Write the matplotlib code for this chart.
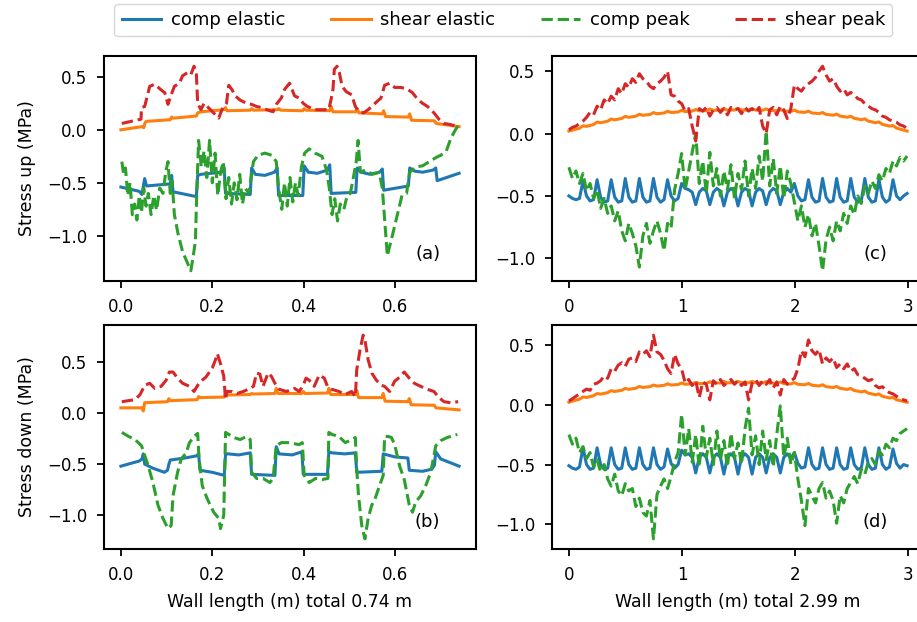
import matplotlib
matplotlib.use("Agg")
import matplotlib.pyplot as plt
from matplotlib.ticker import MultipleLocator
import numpy as np

plt.rcParams['font.family'] = ['DejaVu Sans']

labels = ['comp elastic', 'shear elastic', 'comp peak', 'shear peak']
colors = ['tab:blue', 'tab:orange', 'tab:green', 'tab:red']
styles = ['-', '-', '--', '--']

# ---------------- short wall (0.74 m), (x, y) pairs ----------------
a_comp_el = [(0.0, -0.54), (0.040, -0.58), (0.046, -0.61), (0.052, -0.46), (0.056, -0.53),
             (0.108, -0.51), (0.111, -0.43), (0.114, -0.585), (0.165, -0.63), (0.168, -0.43),
             (0.175, -0.42), (0.220, -0.40), (0.226, -0.36), (0.229, -0.60), (0.283, -0.61),
             (0.286, -0.36), (0.294, -0.42), (0.315, -0.43), (0.336, -0.40), (0.342, -0.36),
             (0.345, -0.62), (0.398, -0.62), (0.401, -0.34), (0.410, -0.40), (0.430, -0.41),
             (0.452, -0.38), (0.457, -0.33), (0.460, -0.60), (0.514, -0.59), (0.517, -0.36),
             (0.526, -0.40), (0.545, -0.42), (0.566, -0.40), (0.572, -0.37), (0.575, -0.57),
             (0.629, -0.53), (0.632, -0.36), (0.643, -0.39), (0.660, -0.40), (0.683, -0.38),
             (0.689, -0.36), (0.692, -0.48), (0.740, -0.41)]
a_shear_el = [(0.0, 0.0), (0.046, 0.03), (0.050, 0.02), (0.053, 0.07), (0.056, 0.08),
              (0.108, 0.095), (0.111, 0.12), (0.114, 0.11), (0.165, 0.13), (0.168, 0.16),
              (0.175, 0.17), (0.226, 0.19), (0.229, 0.21), (0.232, 0.18), (0.283, 0.185),
              (0.286, 0.20), (0.290, 0.185), (0.342, 0.19), (0.345, 0.20), (0.350, 0.185),
              (0.398, 0.18), (0.401, 0.20), (0.405, 0.185), (0.457, 0.18), (0.460, 0.22),
              (0.464, 0.17), (0.514, 0.17), (0.517, 0.20), (0.521, 0.16), (0.572, 0.15),
              (0.575, 0.18), (0.579, 0.125), (0.629, 0.12), (0.632, 0.15), (0.636, 0.09),
              (0.686, 0.085), (0.690, 0.06), (0.740, 0.03)]
a_comp_pk = [(0.002, -0.30), (0.006, -0.42), (0.010, -0.36), (0.015, -0.62), (0.020, -0.50),
             (0.025, -0.80), (0.030, -0.70), (0.035, -0.85), (0.040, -0.62), (0.045, -0.78),
             (0.050, -0.55), (0.055, -0.72), (0.060, -0.60), (0.066, -0.80), (0.072, -0.62),
             (0.078, -0.76), (0.085, -0.55), (0.092, -0.60), (0.098, -0.40), (0.103, -0.30),
             (0.108, -0.60), (0.112, -0.48), (0.117, -0.80), (0.125, -0.98), (0.135, -1.15),
             (0.145, -1.25), (0.153, -1.33), (0.158, -1.20), (0.163, -1.05), (0.166, -0.60),
             (0.170, -0.10), (0.176, -0.35), (0.182, -0.20), (0.188, -0.45), (0.194, -0.10),
             (0.200, -0.50), (0.206, -0.22), (0.212, -0.62), (0.218, -0.40), (0.224, -0.30),
             (0.230, -0.65), (0.236, -0.45), (0.242, -0.70), (0.248, -0.50), (0.254, -0.66),
             (0.260, -0.42), (0.266, -0.70), (0.272, -0.55), (0.280, -0.60), (0.290, -0.30),
             (0.300, -0.24), (0.315, -0.22), (0.330, -0.24), (0.340, -0.30), (0.345, -0.55),
             (0.352, -0.75), (0.358, -0.50), (0.364, -0.72), (0.370, -0.45), (0.376, -0.68),
             (0.382, -0.50), (0.388, -0.62), (0.395, -0.35), (0.402, -0.22), (0.412, -0.18),
             (0.425, -0.22), (0.440, -0.25), (0.450, -0.38), (0.456, -0.55), (0.462, -0.80),
             (0.468, -0.65), (0.474, -0.86), (0.480, -0.70), (0.488, -0.75), (0.495, -0.62),
             (0.502, -0.60), (0.510, -0.42), (0.515, -0.30), (0.519, -0.10), (0.524, -0.40),
             (0.535, -0.38), (0.550, -0.42), (0.565, -0.40), (0.572, -0.55), (0.578, -0.90),
             (0.583, -1.19), (0.588, -1.10), (0.595, -0.98), (0.605, -0.80), (0.615, -0.62),
             (0.625, -0.60), (0.632, -0.40), (0.645, -0.35), (0.660, -0.34), (0.675, -0.30),
             (0.690, -0.26), (0.700, -0.24), (0.712, -0.20), (0.722, -0.08), (0.732, 0.00),
             (0.738, 0.04)]
a_shear_pk = [(0.002, 0.06), (0.038, 0.095), (0.044, 0.10), (0.045, 0.21), (0.052, 0.22),
              (0.063, 0.41), (0.074, 0.43), (0.087, 0.38), (0.096, 0.35), (0.103, 0.24),
              (0.110, 0.33), (0.117, 0.41), (0.128, 0.44), (0.135, 0.51), (0.146, 0.54),
              (0.153, 0.52), (0.160, 0.60), (0.165, 0.54), (0.168, 0.25), (0.175, 0.19),
              (0.182, 0.25), (0.189, 0.22), (0.196, 0.19), (0.207, 0.14), (0.214, 0.11),
              (0.221, 0.19), (0.231, 0.25), (0.236, 0.42), (0.243, 0.38), (0.250, 0.32),
              (0.261, 0.28), (0.275, 0.25), (0.286, 0.24), (0.297, 0.22), (0.308, 0.21),
              (0.319, 0.19), (0.333, 0.17), (0.340, 0.24), (0.351, 0.30), (0.358, 0.38),
              (0.369, 0.44), (0.380, 0.32), (0.390, 0.30), (0.399, 0.25), (0.408, 0.22),
              (0.423, 0.19), (0.441, 0.19), (0.455, 0.19), (0.460, 0.29), (0.464, 0.38),
              (0.467, 0.57), (0.473, 0.60), (0.478, 0.54), (0.484, 0.41), (0.493, 0.36),
              (0.505, 0.33), (0.513, 0.22), (0.521, 0.17), (0.531, 0.16), (0.541, 0.19),
              (0.556, 0.25), (0.569, 0.30), (0.577, 0.42), (0.588, 0.44), (0.599, 0.40),
              (0.613, 0.40), (0.628, 0.38), (0.638, 0.35), (0.649, 0.29), (0.660, 0.25),
              (0.671, 0.22), (0.685, 0.16), (0.696, 0.10), (0.707, 0.06), (0.721, 0.05),
              (0.736, 0.03)]

b_comp_el = [(0.0, -0.52), (0.040, -0.47), (0.046, -0.45), (0.049, -0.40), (0.052, -0.50),
             (0.070, -0.54), (0.095, -0.58), (0.102, -0.56), (0.105, -0.50), (0.108, -0.46),
             (0.140, -0.44), (0.165, -0.42), (0.170, -0.40), (0.173, -0.56), (0.200, -0.58),
             (0.226, -0.61), (0.229, -0.40), (0.235, -0.40), (0.258, -0.41), (0.283, -0.39),
             (0.286, -0.60), (0.337, -0.61), (0.340, -0.33), (0.346, -0.40), (0.375, -0.41),
             (0.396, -0.38), (0.399, -0.60), (0.452, -0.60), (0.455, -0.38), (0.462, -0.39),
             (0.490, -0.40), (0.513, -0.39), (0.516, -0.58), (0.571, -0.57), (0.574, -0.40),
             (0.600, -0.43), (0.628, -0.44), (0.631, -0.56), (0.660, -0.57), (0.680, -0.55),
             (0.686, -0.51), (0.689, -0.38), (0.700, -0.45), (0.740, -0.52)]
b_shear_el = [(0.0, 0.05), (0.046, 0.05), (0.049, 0.02), (0.052, 0.10), (0.102, 0.11),
              (0.105, 0.14), (0.108, 0.12), (0.167, 0.13), (0.170, 0.16), (0.174, 0.15),
              (0.226, 0.155), (0.229, 0.19), (0.233, 0.175), (0.283, 0.18), (0.286, 0.19),
              (0.290, 0.185), (0.337, 0.19), (0.340, 0.24), (0.344, 0.19), (0.396, 0.19),
              (0.399, 0.21), (0.403, 0.19), (0.452, 0.195), (0.455, 0.24), (0.459, 0.18),
              (0.513, 0.18), (0.516, 0.22), (0.520, 0.15), (0.571, 0.15), (0.574, 0.19),
              (0.578, 0.115), (0.628, 0.11), (0.631, 0.14), (0.635, 0.08), (0.686, 0.075),
              (0.689, 0.05), (0.740, 0.03)]
b_comp_pk = [(0.002, -0.19), (0.017, -0.23), (0.031, -0.26), (0.045, -0.32), (0.060, -0.52),
             (0.070, -0.68), (0.081, -0.90), (0.092, -1.03), (0.103, -1.13), (0.110, -1.10),
             (0.114, -0.81), (0.124, -0.58), (0.132, -0.45), (0.143, -0.39), (0.150, -0.29),
             (0.160, -0.23), (0.168, -0.20), (0.171, -0.45), (0.178, -0.71), (0.189, -0.84),
             (0.203, -0.97), (0.214, -1.03), (0.218, -1.13), (0.225, -1.00), (0.229, -0.19),
             (0.236, -0.21), (0.247, -0.24), (0.261, -0.26), (0.275, -0.23), (0.283, -0.26),
             (0.286, -0.58), (0.297, -0.64), (0.311, -0.64), (0.326, -0.68), (0.333, -0.64),
             (0.340, -0.32), (0.351, -0.29), (0.369, -0.29), (0.390, -0.31), (0.397, -0.29),
             (0.401, -0.61), (0.412, -0.68), (0.426, -0.64), (0.441, -0.65), (0.453, -0.64),
             (0.455, -0.19), (0.462, -0.21), (0.477, -0.23), (0.491, -0.29), (0.505, -0.26),
             (0.513, -0.24), (0.516, -0.55), (0.520, -0.81), (0.527, -1.10), (0.534, -1.23),
             (0.541, -1.03), (0.549, -0.90), (0.556, -0.84), (0.566, -0.71), (0.574, -0.61),
             (0.577, -0.23), (0.585, -0.23), (0.592, -0.24), (0.599, -0.31), (0.610, -0.52),
             (0.620, -0.65), (0.631, -0.90), (0.638, -0.97), (0.645, -0.87), (0.656, -0.81),
             (0.667, -0.71), (0.678, -0.58), (0.689, -0.32), (0.700, -0.27), (0.714, -0.24),
             (0.736, -0.21)]
b_shear_pk = [(0.002, 0.11), (0.031, 0.13), (0.042, 0.18), (0.052, 0.27), (0.063, 0.29),
              (0.074, 0.24), (0.088, 0.26), (0.099, 0.32), (0.106, 0.40), (0.114, 0.40),
              (0.124, 0.34), (0.135, 0.29), (0.150, 0.26), (0.160, 0.21), (0.168, 0.27),
              (0.175, 0.31), (0.186, 0.35), (0.200, 0.44), (0.207, 0.52), (0.211, 0.58),
              (0.218, 0.48), (0.225, 0.36), (0.229, 0.13), (0.232, 0.21), (0.243, 0.21),
              (0.254, 0.19), (0.268, 0.21), (0.283, 0.24), (0.290, 0.26), (0.297, 0.39),
              (0.304, 0.38), (0.311, 0.26), (0.322, 0.39), (0.329, 0.36), (0.337, 0.29),
              (0.347, 0.23), (0.362, 0.21), (0.380, 0.24), (0.390, 0.21), (0.398, 0.26),
              (0.405, 0.34), (0.412, 0.32), (0.423, 0.26), (0.434, 0.37), (0.445, 0.34),
              (0.452, 0.26), (0.462, 0.23), (0.477, 0.21), (0.491, 0.18), (0.505, 0.21),
              (0.513, 0.16), (0.516, 0.42), (0.523, 0.61), (0.530, 0.76), (0.534, 0.71),
              (0.541, 0.52), (0.549, 0.39), (0.559, 0.32), (0.570, 0.27), (0.577, 0.26),
              (0.588, 0.21), (0.599, 0.31), (0.610, 0.35), (0.620, 0.40), (0.631, 0.34),
              (0.642, 0.29), (0.656, 0.26), (0.671, 0.23), (0.685, 0.21), (0.696, 0.15),
              (0.707, 0.11), (0.721, 0.10), (0.738, 0.11)]

# ---------------- long wall (2.99 m), sampled along the wall ----------------
x_long = np.linspace(0, 2.99, 97)

c_comp_el = [-0.50, -0.52, -0.53, -0.52, -0.38, -0.50, -0.54, -0.53,
             -0.37, -0.51, -0.55, -0.54, -0.37, -0.51, -0.55, -0.54,
             -0.36, -0.51, -0.55, -0.54, -0.36, -0.51, -0.55, -0.54,
             -0.36, -0.51, -0.55, -0.53, -0.37, -0.50, -0.54, -0.52,
             -0.40, -0.44, -0.45, -0.47, -0.57, -0.47, -0.44, -0.46,
             -0.57, -0.47, -0.44, -0.46, -0.58, -0.47, -0.44, -0.46,
             -0.58, -0.47, -0.44, -0.46, -0.58, -0.47, -0.44, -0.46,
             -0.57, -0.47, -0.44, -0.46, -0.57, -0.47, -0.44, -0.47,
             -0.40, -0.50, -0.54, -0.53, -0.37, -0.51, -0.55, -0.54,
             -0.36, -0.51, -0.55, -0.54, -0.36, -0.51, -0.55, -0.54,
             -0.36, -0.51, -0.55, -0.54, -0.36, -0.51, -0.55, -0.54,
             -0.37, -0.51, -0.55, -0.53, -0.37, -0.50, -0.53, -0.50,
             -0.48]
c_shear_el = [0.020, 0.028, 0.035, 0.043, 0.062, 0.058, 0.065, 0.073,
              0.092, 0.087, 0.093, 0.099, 0.117, 0.110, 0.116, 0.121,
              0.138, 0.130, 0.135, 0.139, 0.155, 0.147, 0.150, 0.153,
              0.168, 0.159, 0.162, 0.165, 0.179, 0.169, 0.171, 0.173,
              0.187, 0.176, 0.178, 0.180, 0.193, 0.182, 0.183, 0.184,
              0.197, 0.186, 0.187, 0.187, 0.200, 0.188, 0.189, 0.189,
              0.201, 0.189, 0.189, 0.188, 0.200, 0.188, 0.187, 0.187,
              0.198, 0.185, 0.184, 0.183, 0.194, 0.181, 0.179, 0.178,
              0.188, 0.174, 0.172, 0.170, 0.180, 0.165, 0.163, 0.160,
              0.169, 0.154, 0.151, 0.147, 0.156, 0.140, 0.136, 0.131,
              0.139, 0.122, 0.117, 0.111, 0.118, 0.100, 0.094, 0.087,
              0.093, 0.074, 0.067, 0.060, 0.064, 0.044, 0.036, 0.028,
              0.020]
c_comp_pk = [-0.27, -0.36, -0.30, -0.40, -0.32, -0.46, -0.40, -0.52,
             -0.45, -0.60, -0.52, -0.64, -0.58, -0.70, -0.62, -0.78,
             -0.86, -0.72, -0.80, -0.90, -1.07, -0.82, -0.72, -0.88,
             -0.78, -0.70, -0.80, -0.94, -0.72, -0.76, -0.45, -0.32,
             -0.16, -0.45, -0.30, -0.15, 0.00, -0.40, -0.22, -0.48,
             -0.15, -0.42, -0.28, -0.50, -0.30, -0.45, -0.25, -0.52,
             -0.32, -0.45, -0.22, -0.50, -0.28, -0.44, -0.18, -0.38,
             0.02, -0.42, -0.20, -0.48, -0.26, -0.52, -0.30, -0.40,
             -0.55, -0.70, -0.58, -0.75, -0.65, -0.82, -0.72, -0.90,
             -1.10, -0.85, -0.75, -0.86, -0.70, -0.78, -0.64, -0.72,
             -0.58, -0.65, -0.50, -0.56, -0.42, -0.48, -0.38, -0.44,
             -0.33, -0.38, -0.28, -0.32, -0.22, -0.26, -0.19, -0.22,
             -0.18]
c_shear_pk = [0.03, 0.05, 0.06, 0.08, 0.10, 0.13, 0.17, 0.15,
              0.22, 0.19, 0.27, 0.24, 0.30, 0.27, 0.36, 0.32,
              0.40, 0.37, 0.44, 0.41, 0.48, 0.44, 0.42, 0.38,
              0.36, 0.40, 0.42, 0.45, 0.50, 0.31, 0.30, 0.26,
              0.24, 0.18, 0.20, 0.06, -0.06, 0.20, 0.18, 0.21,
              0.14, 0.19, 0.21, 0.17, 0.20, 0.15, 0.21, 0.19,
              0.20, 0.16, 0.21, 0.18, 0.20, 0.17, 0.21, 0.06,
              0.00, 0.19, 0.21, 0.15, 0.22, 0.19, 0.12, 0.20,
              0.39, 0.36, 0.34, 0.38, 0.40, 0.42, 0.45, 0.50,
              0.54, 0.47, 0.42, 0.44, 0.38, 0.34, 0.36, 0.31,
              0.33, 0.31, 0.28, 0.27, 0.24, 0.22, 0.20, 0.19,
              0.17, 0.14, 0.13, 0.11, 0.10, 0.09, 0.07, 0.06,
              0.04]

d_comp_el = [-0.51, -0.53, -0.54, -0.52, -0.36, -0.50, -0.54, -0.53,
             -0.36, -0.50, -0.54, -0.53, -0.36, -0.50, -0.54, -0.53,
             -0.36, -0.50, -0.54, -0.53, -0.36, -0.50, -0.54, -0.53,
             -0.36, -0.50, -0.54, -0.52, -0.37, -0.49, -0.53, -0.50,
             -0.38, -0.42, -0.41, -0.44, -0.57, -0.44, -0.41, -0.44,
             -0.57, -0.44, -0.41, -0.44, -0.58, -0.44, -0.41, -0.44,
             -0.58, -0.44, -0.41, -0.44, -0.58, -0.44, -0.41, -0.44,
             -0.57, -0.44, -0.41, -0.44, -0.57, -0.44, -0.41, -0.45,
             -0.40, -0.49, -0.53, -0.52, -0.36, -0.50, -0.54, -0.53,
             -0.36, -0.50, -0.54, -0.53, -0.36, -0.50, -0.54, -0.53,
             -0.36, -0.50, -0.54, -0.53, -0.36, -0.50, -0.54, -0.53,
             -0.36, -0.50, -0.54, -0.52, -0.37, -0.49, -0.53, -0.50,
             -0.51]
d_shear_el = [0.020, 0.030, 0.038, 0.046, 0.064, 0.060, 0.067, 0.075,
              0.093, 0.088, 0.094, 0.100, 0.117, 0.110, 0.115, 0.120,
              0.136, 0.128, 0.133, 0.137, 0.152, 0.144, 0.147, 0.150,
              0.164, 0.155, 0.158, 0.161, 0.174, 0.164, 0.166, 0.168,
              0.181, 0.170, 0.172, 0.174, 0.187, 0.176, 0.177, 0.178,
              0.191, 0.180, 0.181, 0.181, 0.194, 0.182, 0.183, 0.183,
              0.195, 0.183, 0.183, 0.182, 0.194, 0.182, 0.181, 0.181,
              0.192, 0.180, 0.179, 0.178, 0.189, 0.176, 0.175, 0.173,
              0.184, 0.170, 0.168, 0.166, 0.177, 0.162, 0.159, 0.156,
              0.166, 0.150, 0.147, 0.143, 0.152, 0.136, 0.132, 0.127,
              0.135, 0.118, 0.113, 0.107, 0.114, 0.096, 0.090, 0.083,
              0.089, 0.070, 0.063, 0.056, 0.060, 0.041, 0.034, 0.027,
              0.020]
d_comp_pk = [-0.25, -0.33, -0.28, -0.40, -0.35, -0.45, -0.40, -0.52,
             -0.46, -0.56, -0.50, -0.62, -0.68, -0.58, -0.72, -0.76,
             -0.66, -0.72, -0.70, -0.85, -0.78, -0.90, -0.93, -0.80,
             -1.12, -0.75, -0.68, -0.62, -0.70, -0.60, -0.48, -0.40,
             -0.08, -0.42, -0.20, -0.48, -0.25, -0.52, -0.18, -0.44,
             -0.28, -0.50, -0.22, -0.46, -0.30, -0.52, -0.24, -0.45,
             -0.32, -0.50, -0.20, -0.03, -0.42, -0.26, -0.50, -0.22,
             -0.46, -0.30, -0.52, -0.25, -0.01, -0.44, -0.28, -0.50,
             -0.40, -0.62, -0.80, -1.01, -0.70, -0.76, -0.82, -0.70,
             -0.65, -0.78, -0.72, -0.80, -0.99, -0.76, -0.82, -0.70,
             -0.65, -0.60, -0.66, -0.54, -0.58, -0.48, -0.45, -0.50,
             -0.39, -0.42, -0.33, -0.36, -0.28, -0.30, -0.24, -0.22,
             -0.20]
d_shear_pk = [0.03, 0.05, 0.07, 0.09, 0.11, 0.13, 0.12, 0.17,
              0.18, 0.20, 0.24, 0.22, 0.30, 0.28, 0.33, 0.35,
              0.32, 0.38, 0.39, 0.36, 0.44, 0.42, 0.45, 0.40,
              0.58, 0.44, 0.42, 0.37, 0.30, 0.26, 0.42, 0.34,
              0.30, 0.18, 0.21, 0.16, 0.20, 0.06, 0.19, 0.17,
              0.04, 0.20, 0.17, 0.21, 0.16, 0.19, 0.21, 0.17,
              0.20, 0.16, 0.19, 0.04, 0.18, 0.21, 0.16, 0.20,
              0.17, 0.21, 0.14, 0.19, 0.08, 0.21, 0.17, 0.20,
              0.22, 0.30, 0.45, 0.40, 0.54, 0.45, 0.42, 0.46,
              0.34, 0.39, 0.36, 0.39, 0.31, 0.34, 0.30, 0.34,
              0.28, 0.30, 0.25, 0.24, 0.22, 0.20, 0.21, 0.16,
              0.14, 0.15, 0.12, 0.10, 0.09, 0.07, 0.05, 0.04,
              0.03]


def draw_pairs(ax, series):
    for data, c, ls in zip(series, colors, styles):
        xy = np.array(data)
        ax.plot(xy[:, 0], xy[:, 1], color=c, ls=ls, lw=2.2)


def draw_long(ax, series):
    for data, c, ls in zip(series, colors, styles):
        ax.plot(x_long, data, color=c, ls=ls, lw=2.2)


fig = plt.figure(figsize=(9.17, 6.22), dpi=100)
W, H = 917.0, 622.0
# axes boxes in pixels: left, top, right, bottom
boxes = {'a': (104, 56, 476, 281), 'c': (552, 56, 924, 281),
         'b': (104, 325, 476, 549), 'd': (552, 325, 924, 549)}
axes = {}
for k, (l, t, r, b) in boxes.items():
    axes[k] = fig.add_axes([l / W, 1 - b / H, (r - l) / W, (b - t) / H])

draw_pairs(axes['a'], [a_comp_el, a_shear_el, a_comp_pk, a_shear_pk])
draw_pairs(axes['b'], [b_comp_el, b_shear_el, b_comp_pk, b_shear_pk])
draw_long(axes['c'], [c_comp_el, c_shear_el, c_comp_pk, c_shear_pk])
draw_long(axes['d'], [d_comp_el, d_shear_el, d_comp_pk, d_shear_pk])

for k in ('c', 'd'):
    axes[k].xaxis.set_major_locator(MultipleLocator(1))

for k, ax in axes.items():
    for s in ax.spines.values():
        s.set_linewidth(1.5)
    ax.tick_params(direction='out', length=5, width=1.3, pad=7, labelsize=12)
    ax.text(0.87, 0.12, '(%s)' % k, transform=ax.transAxes, ha='center',
            va='center', fontsize=13)

axes['a'].set_ylabel('Stress up (MPa)', fontsize=12.5, labelpad=8)
axes['b'].set_ylabel('Stress down (MPa)', fontsize=12.5, labelpad=8)
axes['b'].set_xlabel('Wall length (m) total 0.74 m', fontsize=12.5, labelpad=7)
axes['d'].set_xlabel('Wall length (m) total 2.99 m', fontsize=12.5, labelpad=7)

handles = axes['a'].get_lines()[:4]
fig.legend(handles, labels, loc='upper center', bbox_to_anchor=(0.549, 0.9936),
           borderaxespad=0, ncol=4, fontsize=13, handlelength=2.2,
           handletextpad=0.55, columnspacing=2.5)

fig.savefig('out.png', dpi=100)
